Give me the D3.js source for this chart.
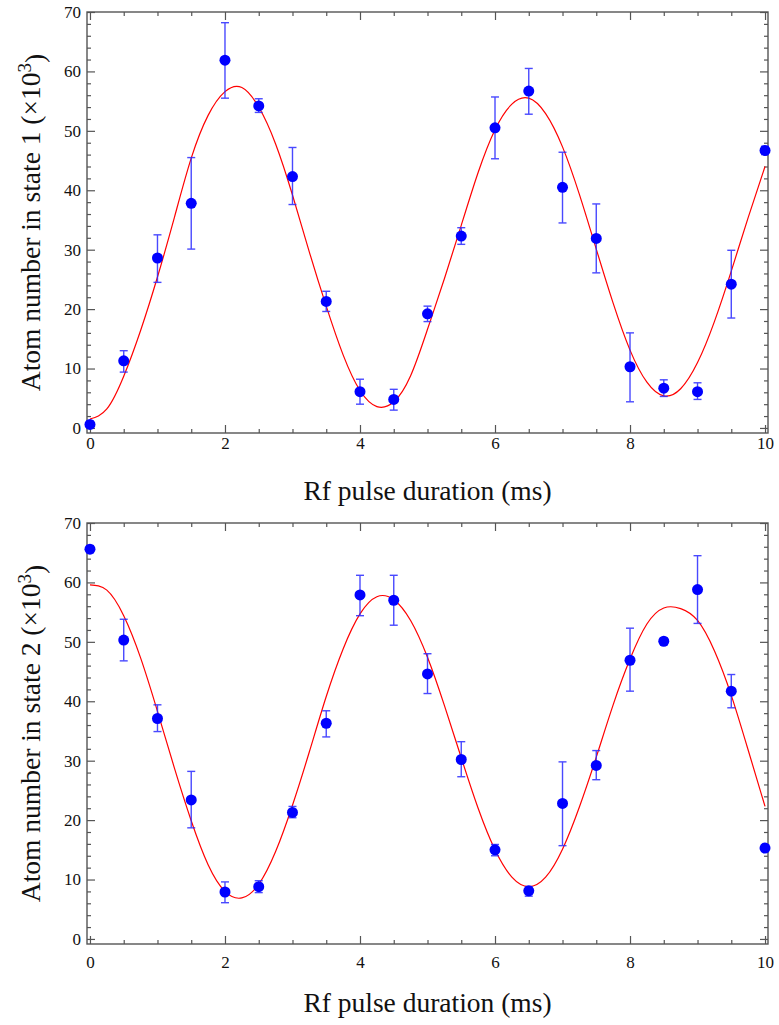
<!DOCTYPE html>
<html>
<head>
<meta charset="utf-8">
<script src="https://cdn.jsdelivr.net/npm/d3@7"></script>
<style>
  body { margin: 0; background: #fff; }
  text { font-family: "Liberation Serif", "Times New Roman", serif; fill: #111; }
</style>
</head>
<body>
<svg id="chart" width="779" height="1025"></svg>
<script>
'use strict';

// pulse durations (ms) of the measured points
var pulseTimes = [0, 0.5, 1, 1.5, 2, 2.5, 3, 3.5, 4, 4.5, 5, 5.5, 6, 6.5, 7, 7.5, 8, 8.5, 9, 9.5, 10];

// state 1 atom number (x10^3), with error bar ends
var state1    = [0.6, 11.3, 28.6, 37.8, 61.9, 54.2, 42.3, 21.3, 6.1, 4.8, 19.2, 32.3, 50.5, 56.7, 40.5, 31.9, 10.3, 6.7, 6.1, 24.2, 46.7];
var state1Low = [0.1,  9.4, 24.5, 30.1, 55.5, 53.1, 37.6, 19.6, 4.0, 3.0, 17.9, 30.9, 45.3, 52.8, 34.5, 26.1,  4.4, 5.3, 4.8, 18.5, 46.0];
var state1High= [1.1, 13.0, 32.5, 45.5, 68.2, 55.4, 47.2, 23.0, 8.2, 6.5, 20.5, 33.7, 55.7, 60.5, 46.4, 37.7, 16.0, 8.1, 7.6, 29.9, 47.4];

// state 2 atom number (x10^3), with error bar ends
var state2    = [65.6, 50.3, 37.1, 23.4, 7.9, 8.8, 21.3, 36.3, 57.9, 57.0, 44.6, 30.2, 15.0, 8.1, 22.8, 29.2, 46.9, 50.1, 58.8, 41.7, 15.3];
var state2Low = [65.0, 46.8, 34.9, 18.7, 6.1, 7.8, 20.4, 34.0, 54.4, 52.8, 41.3, 27.3, 14.0, 7.2, 15.7, 26.8, 41.7, 49.6, 53.1, 38.9, 14.8];
var state2High= [66.2, 53.8, 39.4, 28.2, 9.6, 9.8, 22.3, 38.4, 61.2, 61.2, 48.0, 33.2, 15.9, 8.8, 29.8, 31.7, 52.3, 50.6, 64.5, 44.5, 15.8];

// fitted curves, every 0.25 ms
var fitTimes = [0, 0.25, 0.5, 0.75, 1, 1.25, 1.5, 1.75, 2, 2.25, 2.5, 2.75, 3, 3.25, 3.5, 3.75, 4, 4.25, 4.5, 4.75,
                5, 5.25, 5.5, 5.75, 6, 6.25, 6.5, 6.75, 7, 7.25, 7.5, 7.75, 8, 8.25, 8.5, 8.75, 9, 9.25, 9.5, 9.75, 10];
var fit1 = [1.5, 3.2, 8.7, 16.4, 25.4, 35.4, 45.4, 52.6, 56.6, 57.3, 54.0, 47.8, 39.2, 29.6, 20.5, 12.3, 6.3, 3.6, 4.4, 8.8,
            16.6, 25.1, 34.1, 43.0, 50.2, 54.5, 55.5, 52.9, 47.3, 39.3, 30.1, 21.0, 13.1, 7.7, 5.4, 6.6, 11.0, 17.9, 26.4, 35.4, 44.0];
var fit2 = [59.6, 58.7, 54.4, 47.3, 38.3, 28.8, 19.9, 12.5, 8.0, 6.9, 9.2, 14.7, 22.5, 31.5, 40.8, 48.8, 54.7, 57.6, 57.1, 53.6,
            47.4, 39.3, 30.5, 22.0, 15.0, 10.4, 8.8, 10.4, 15.1, 22.2, 30.6, 39.4, 47.1, 53.0, 55.7, 55.6, 53.6, 48.5, 41.0, 31.8, 22.3];

// tick values
var xMajor = [0, 2, 4, 6, 8, 10];
var xMinor = [0.5, 1, 1.5, 2.5, 3, 3.5, 4.5, 5, 5.5, 6.5, 7, 7.5, 8.5, 9, 9.5];
var yMajor = [0, 10, 20, 30, 40, 50, 60, 70];
var yMinor = [2, 4, 6, 8, 12, 14, 16, 18, 22, 24, 26, 28, 32, 34, 36, 38, 42, 44, 46, 48, 52, 54, 56, 58, 62, 64, 66, 68];

var svg = d3.select('#chart');
var left = 87, right = 768, frameColor = '#555';

function drawPanel(p, vals, lows, highs, fit, stateNo) {
  var x = d3.scaleLinear().domain([-0.044, 10.044]).range([left, right]);
  var y = d3.scaleLinear().domain([-0.85, 70]).range([p.bottom, p.top]);
  var g = svg.append('g');

  g.append('clipPath').attr('id', 'clip' + stateNo)
    .append('rect').attr('x', left).attr('y', p.top)
    .attr('width', right - left).attr('height', p.bottom - p.top);

  // ticks on all four sides, pointing inward
  function ticks(axis, tx, ty) {
    var a = g.append('g').attr('transform', 'translate(' + tx + ',' + ty + ')').call(axis);
    a.select('.domain').remove();
    a.selectAll('line').attr('stroke', frameColor).attr('stroke-width', 1.2);
    a.selectAll('text').style('font-size', '17px').attr('fill', '#111');
    return a;
  }
  ticks(d3.axisBottom(x).tickValues(xMajor).tickSize(-8).tickPadding(p.labelPad).tickFormat(d3.format('d')), 0, p.bottom);
  ticks(d3.axisBottom(x).tickValues(xMinor).tickSize(-4).tickFormat(''), 0, p.bottom);
  ticks(d3.axisTop(x).tickValues(xMajor).tickSize(-8).tickFormat(''), 0, p.top);
  ticks(d3.axisTop(x).tickValues(xMinor).tickSize(-4).tickFormat(''), 0, p.top);
  ticks(d3.axisLeft(y).tickValues(yMajor).tickSize(-8).tickPadding(6).tickFormat(d3.format('d')), left, 0);
  ticks(d3.axisLeft(y).tickValues(yMinor).tickSize(-4).tickFormat(''), left, 0);
  ticks(d3.axisRight(y).tickValues(yMajor).tickSize(-8).tickFormat(''), right, 0);
  ticks(d3.axisRight(y).tickValues(yMinor).tickSize(-4).tickFormat(''), right, 0);

  g.append('rect')
    .attr('x', left).attr('y', p.top)
    .attr('width', right - left).attr('height', p.bottom - p.top)
    .attr('fill', 'none').attr('stroke', frameColor).attr('stroke-width', 1.4);

  // fit
  var line = d3.line()
    .x(function (d, i) { return x(fitTimes[i]); })
    .y(function (d) { return y(d); })
    .curve(d3.curveNatural);
  g.append('path').datum(fit)
    .attr('clip-path', 'url(#clip' + stateNo + ')')
    .attr('d', line)
    .attr('fill', 'none').attr('stroke', '#ff0000').attr('stroke-width', 1.2);

  // error bars
  var bars = g.append('g').attr('stroke', '#2a2aff').attr('stroke-width', 1.4).attr('opacity', 0.85);
  pulseTimes.forEach(function (t, i) {
    var cx = x(t);
    bars.append('line').attr('x1', cx).attr('x2', cx).attr('y1', y(lows[i])).attr('y2', y(highs[i]));
    bars.append('line').attr('x1', cx - 4).attr('x2', cx + 4).attr('y1', y(lows[i])).attr('y2', y(lows[i]));
    bars.append('line').attr('x1', cx - 4).attr('x2', cx + 4).attr('y1', y(highs[i])).attr('y2', y(highs[i]));
  });

  // points
  g.selectAll('circle.pt').data(vals).enter().append('circle')
    .attr('class', 'pt')
    .attr('cx', function (d, i) { return x(pulseTimes[i]); })
    .attr('cy', function (d) { return y(d); })
    .attr('r', 5.5)
    .attr('fill', '#0000ff');

  // axis titles
  g.append('text')
    .attr('x', (left + right) / 2).attr('y', p.titleY)
    .attr('text-anchor', 'middle')
    .style('font-size', '27.5px')
    .text('Rf pulse duration (ms)');

  var yt = g.append('text')
    .attr('transform', 'translate(40,' + (p.top + p.bottom) / 2 + ') rotate(-90)')
    .attr('text-anchor', 'middle')
    .style('font-size', '27.5px');
  yt.append('tspan').text('Atom number in state ' + stateNo + ' (\u00d710');
  yt.append('tspan').attr('dy', '-0.45em').style('font-size', '19px').text('3');
  yt.append('tspan').attr('dy', '0.45em').text(')');
}

drawPanel({ top: 12, bottom: 433, labelPad: 4, titleY: 500 }, state1, state1Low, state1High, fit1, 1);
drawPanel({ top: 523, bottom: 944, labelPad: 12, titleY: 1012 }, state2, state2Low, state2High, fit2, 2);
</script>
</body>
</html>
